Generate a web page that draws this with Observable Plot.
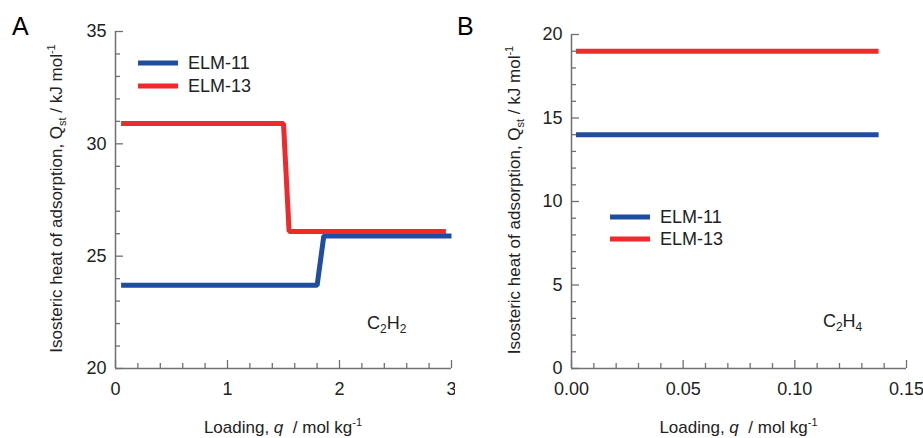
<!DOCTYPE html>
<html>
<head>
<meta charset="utf-8">
<script src="https://cdn.jsdelivr.net/npm/d3@7"></script>
<script src="https://cdn.jsdelivr.net/npm/@observablehq/plot@0.6"></script>
<style>
  html, body { margin: 0; padding: 0; background: #fff; }
  #wrap { display: flex; width: 923px; height: 438px; font-family: "Liberation Sans", Arial, sans-serif; }
  svg { display: block; flex-shrink: 0; }
</style>
</head>
<body>
<div id="wrap"></div>
<script>
// ---------- data ----------
const seriesNames = ["ELM-11", "ELM-13"];
const seriesColors = ["#1f4e9f", "#ee2a2c"];

// Panel A: C2H2
const a_elm11_q = [0.05, 1.80, 1.86, 3.00];
const a_elm11_Q = [23.7, 23.7, 25.9, 25.9];
const a_elm13_q = [0.05, 1.50, 1.55, 2.95];
const a_elm13_Q = [30.9, 30.9, 26.1, 26.1];

// Panel B: C2H4
const b_elm11_q = [0.002, 0.1375];
const b_elm11_Q = [14, 14];
const b_elm13_q = [0.002, 0.1375];
const b_elm13_Q = [19, 19];

// ticks
const a_xMajor = [0, 1, 2, 3];
const a_xMinor = [0.2, 0.4, 0.6, 0.8, 1.2, 1.4, 1.6, 1.8, 2.2, 2.4, 2.6, 2.8];
const a_yMajor = [20, 25, 30, 35];
const a_yMinor = [21, 22, 23, 24, 26, 27, 28, 29, 31, 32, 33, 34];
const b_xMajor = [0, 0.05, 0.10, 0.15];
const b_xMinor = [0.01, 0.02, 0.03, 0.04, 0.06, 0.07, 0.08, 0.09, 0.11, 0.12, 0.13, 0.14];
const b_yMajor = [0, 5, 10, 15, 20];
const b_yMinor = [1, 2, 3, 4, 6, 7, 8, 9, 11, 12, 13, 14, 16, 17, 18, 19];

function rows(name, qs, Qs) { return qs.map((q, i) => ({series: name, q, Q: Qs[i]})); }

const dataA = [...rows("ELM-11", a_elm11_q, a_elm11_Q), ...rows("ELM-13", a_elm13_q, a_elm13_Q)];
const dataB = [...rows("ELM-11", b_elm11_q, b_elm11_Q), ...rows("ELM-13", b_elm13_q, b_elm13_Q)];

const AXIS = "#707070";
const TEXT = "#222";
const FONT = 18;
const TITLE = 17;

function panel(cfg) {
  const innerW = cfg.width - cfg.ml - cfg.mr;
  const innerH = cfg.height - cfg.mt - cfg.mb;
  const plot = Plot.plot({
    width: cfg.width, height: cfg.height,
    marginLeft: cfg.ml, marginRight: cfg.mr, marginTop: cfg.mt, marginBottom: cfg.mb,
    style: {fontFamily: '"Liberation Sans", Arial, sans-serif', fontSize: FONT + "px", color: TEXT, background: "#fff", overflow: "visible", maxWidth: "none"},
    x: {domain: cfg.xDomain, axis: null},
    y: {domain: cfg.yDomain, axis: null},
    color: {domain: seriesNames, range: seriesColors},
    marks: [
      Plot.ruleX([cfg.xDomain[0]], {stroke: AXIS, strokeWidth: 1.5}),
      Plot.ruleY([cfg.yDomain[0]], {stroke: AXIS, strokeWidth: 1.5}),
      Plot.tickX(cfg.xMajor, {x: d => d, insetTop: innerH - 8, stroke: AXIS, strokeWidth: 1.3}),
      Plot.tickX(cfg.xMinor, {x: d => d, insetTop: innerH - 5, stroke: AXIS, strokeWidth: 1.3}),
      Plot.tickY(cfg.yMajor, {y: d => d, insetRight: innerW - 8, stroke: AXIS, strokeWidth: 1.3}),
      Plot.tickY(cfg.yMinor, {y: d => d, insetRight: innerW - 5, stroke: AXIS, strokeWidth: 1.3}),
      Plot.axisX({ticks: cfg.xMajor, tickSize: 0, tickPadding: 14, tickFormat: cfg.xFormat, label: null, fill: TEXT}),
      Plot.axisY({ticks: cfg.yMajor, tickSize: 0, tickPadding: 9, tickFormat: d => String(d), label: null, fill: TEXT}),
      Plot.line(cfg.data, {x: "q", y: "Q", z: "series", stroke: "series", strokeWidth: 5,
        strokeLinecap: "butt", strokeLinejoin: "miter"})
    ]
  });

  const svg = d3.select(plot);
  const sx = plot.scale("x"), sy = plot.scale("y");
  const fam = '"Liberation Sans", Arial, sans-serif';

  // panel letter
  svg.append("text").attr("x", cfg.letterX).attr("y", 35).attr("text-anchor", "start")
    .attr("font-size", 25).attr("font-family", fam).attr("fill", "#000").text(cfg.letter);

  // y title
  const yt = svg.append("text")
    .attr("transform", `translate(${cfg.yTitleX},${cfg.mt + innerH / 2 - 1}) rotate(-90)`)
    .attr("text-anchor", "middle").attr("font-size", TITLE).attr("font-family", fam).attr("fill", TEXT);
  yt.append("tspan").text("Isosteric heat of adsorption, Q");
  yt.append("tspan").attr("font-size", 11).attr("dy", 4).text("st");
  yt.append("tspan").attr("dy", -4).text(" / kJ mol");
  yt.append("tspan").attr("font-size", 11).attr("dy", -7).text("-1");

  // x title
  const xt = svg.append("text")
    .attr("x", cfg.ml + innerW / 2).attr("y", 433)
    .attr("text-anchor", "middle").attr("font-size", TITLE).attr("font-family", fam).attr("fill", TEXT);
  xt.append("tspan").text("Loading, ");
  xt.append("tspan").attr("font-style", "italic").text("q");
  xt.append("tspan").text("\u00a0 / mol kg");
  xt.append("tspan").attr("font-size", 11).attr("dy", -7).text("-1");

  // gas label
  const gl = svg.append("text")
    .attr("x", sx.apply(cfg.gas.x)).attr("y", sy.apply(cfg.gas.y)).attr("text-anchor", "start")
    .attr("font-size", FONT).attr("font-family", fam).attr("fill", TEXT);
  cfg.gas.parts.forEach(([t, sub], i) => {
    if (sub) gl.append("tspan").attr("font-size", 12).attr("dy", 4).text(t);
    else gl.append("tspan").attr("dy", i ? -4 : 0).text(t);
  });

  // legend
  seriesNames.forEach((name, i) => {
    const y = cfg.legend.y + i * cfg.legend.dy;
    svg.append("line").attr("x1", cfg.legend.x).attr("x2", cfg.legend.x + 40)
      .attr("y1", y).attr("y2", y).attr("stroke", seriesColors[i]).attr("stroke-width", 5);
    svg.append("text").attr("x", cfg.legend.x + 50).attr("y", y).attr("dy", "0.36em").attr("text-anchor", "start")
      .attr("font-size", FONT).attr("font-family", fam).attr("fill", TEXT).text(name);
  });

  return plot;
}

const wrap = document.getElementById("wrap");

wrap.appendChild(panel({
  width: 455, height: 438, ml: 115, mr: 4, mt: 31, mb: 70,
  xDomain: [0, 3], yDomain: [20, 35],
  xMajor: a_xMajor, xMinor: a_xMinor, yMajor: a_yMajor, yMinor: a_yMinor,
  xFormat: d => String(d),
  data: dataA,
  letter: "A", letterX: 12, yTitleX: 62,
  gas: {x: 2.25, y: 21.75, parts: [["C"], ["2", true], ["H"], ["2", true]]},
  legend: {x: 138, y: 63, dy: 23}
}));

wrap.appendChild(panel({
  width: 468, height: 438, ml: 116, mr: 17, mt: 34, mb: 70,
  xDomain: [0, 0.15], yDomain: [0, 20],
  xMajor: b_xMajor, xMinor: b_xMinor, yMajor: b_yMajor, yMinor: b_yMinor,
  xFormat: d3.format(".2f"),
  data: dataB,
  letter: "B", letterX: 2, yTitleX: 65,
  gas: {x: 0.1128, y: 2.45, parts: [["C"], ["2", true], ["H"], ["4", true]]},
  legend: {x: 155, y: 217, dy: 22}
}));
</script>
</body>
</html>
